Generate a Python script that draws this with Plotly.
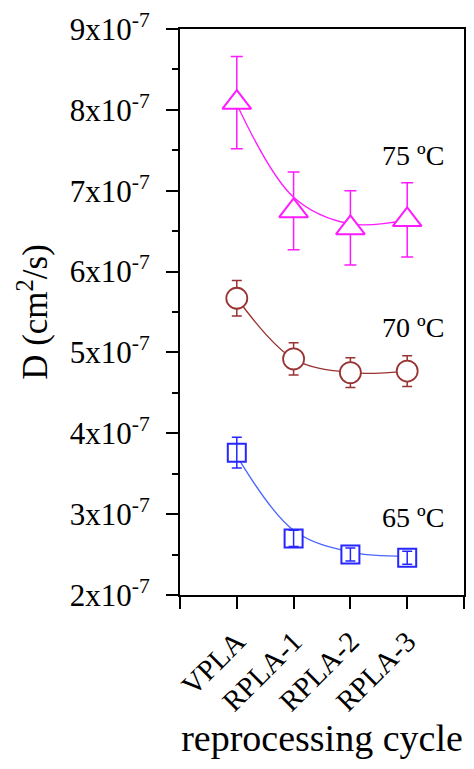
import plotly.graph_objects as go

# ---------------- data ----------------
categories = ["VPLA", "RPLA-1", "RPLA-2", "RPLA-3"]

# Diffusion coefficient D (cm^2/s)
D_75 = [8.09e-7, 6.75e-7, 6.54e-7, 6.64e-7]
err_75 = [0.57e-7, 0.48e-7, 0.46e-7, 0.46e-7]
fit_75 = [8.07e-7, 6.92e-7, 6.59e-7, 6.64e-7]

D_70 = [5.67e-7, 4.92e-7, 4.75e-7, 4.77e-7]
err_70 = [0.22e-7, 0.20e-7, 0.185e-7, 0.19e-7]
fit_70 = [5.67e-7, 4.92e-7, 4.75e-7, 4.77e-7]

D_65 = [3.76e-7, 2.70e-7, 2.50e-7, 2.46e-7]
err_65 = [0.19e-7, 0.10e-7, 0.08e-7, 0.08e-7]
fit_65 = [3.72e-7, 2.80e-7, 2.53e-7, 2.48e-7]

labels = ["75 ºC", "70 ºC", "65 ºC"]
label_y = [7.43e-7, 5.31e-7, 2.96e-7]

y_tickvals = [2e-7, 3e-7, 4e-7, 5e-7, 6e-7, 7e-7, 8e-7, 9e-7]
y_ticktext = [f"{m}x10<sup>-7</sup>" for m in range(2, 10)]

x_pos = list(range(len(categories)))
x_tickvals = [-1] + x_pos + [len(categories)]
x_ticktext = [""] + categories + [""]

FONT = "Liberation Serif, Times New Roman, serif"
PINK = "#FF1AFF"
BROWN = "#993333"
BLUE = "#2626FF"
BLUE_LINE = "#4A66FF"

fig = go.Figure()

# fitted curves
fig.add_trace(go.Scatter(x=x_pos, y=fit_75, mode="lines",
                         line=dict(color=PINK, width=1.3, shape="spline"),
                         showlegend=False, hoverinfo="skip"))
fig.add_trace(go.Scatter(x=x_pos, y=fit_70, mode="lines",
                         line=dict(color=BROWN, width=1.3, shape="spline"),
                         showlegend=False, hoverinfo="skip"))
fig.add_trace(go.Scatter(x=x_pos, y=fit_65, mode="lines",
                         line=dict(color=BLUE_LINE, width=1.3, shape="spline"),
                         showlegend=False, hoverinfo="skip"))

# 75 C: triangles with error bars beneath
fig.add_trace(go.Scatter(
    x=x_pos, y=D_75, mode="markers",
    marker=dict(symbol="triangle-up", size=25, color="white",
                line=dict(color=PINK, width=2)),
    error_y=dict(type="data", array=err_75, visible=True,
                 color=PINK, thickness=1.5, width=6),
    showlegend=False))

# 70 C: circles
fig.add_trace(go.Scatter(
    x=x_pos, y=D_70, mode="markers",
    marker=dict(symbol="circle", size=21, color="white",
                line=dict(color=BROWN, width=1.8)),
    error_y=dict(type="data", array=err_70, visible=True,
                 color=BROWN, thickness=1.5, width=5),
    showlegend=False))

# 65 C: squares, error bars drawn on top
fig.add_trace(go.Scatter(
    x=x_pos, y=D_65, mode="markers",
    marker=dict(symbol="square", size=18, color="white",
                line=dict(color=BLUE, width=2)),
    showlegend=False))
fig.add_trace(go.Scatter(
    x=x_pos, y=D_65, mode="markers",
    marker=dict(size=1, opacity=0),
    error_y=dict(type="data", array=err_65, visible=True,
                 color=BLUE, thickness=1.5, width=5),
    showlegend=False, hoverinfo="skip"))

for txt, yy in zip(labels, label_y):
    fig.add_annotation(x=3.11, y=yy, text=txt, showarrow=False,
                       xref="x", yref="y",
                       font=dict(family=FONT, size=28, color="black"))

fig.update_layout(
    width=474, height=769,
    margin=dict(l=180, r=8, t=26, b=174),
    paper_bgcolor="white", plot_bgcolor="white",
    font=dict(family=FONT, color="black"),
    xaxis=dict(
        range=[-1, len(categories)],
        tickmode="array", tickvals=x_tickvals, ticktext=x_ticktext,
        tickangle=-45, ticks="outside", ticklen=12, tickwidth=2,
        tickcolor="black", ticklabelstandoff=4,
        tickfont=dict(family=FONT, size=29, color="black"),
        showline=True, linecolor="black", linewidth=2, mirror=True,
        showgrid=False, zeroline=False,
        title=dict(text="reprocessing cycle", standoff=4,
                   font=dict(family=FONT, size=38, color="black")),
    ),
    yaxis=dict(
        range=[2e-7, 9e-7],
        tickmode="array", tickvals=y_tickvals, ticktext=y_ticktext,
        ticks="outside", ticklen=12, tickwidth=2, tickcolor="black",
        ticklabelstandoff=10,
        tickfont=dict(family=FONT, size=31, color="black"),
        minor=dict(tickmode="linear", tick0=2e-7, dtick=0.5e-7,
                   ticks="outside", ticklen=6, tickwidth=2,
                   tickcolor="black", showgrid=False),
        showline=True, linecolor="black", linewidth=2, mirror=True,
        showgrid=False, zeroline=False,
        title=dict(text="D (cm<sup>2</sup>/s)", standoff=11,
                   font=dict(family=FONT, size=35, color="black")),
    ),
)

fig.write_html("out.html")
